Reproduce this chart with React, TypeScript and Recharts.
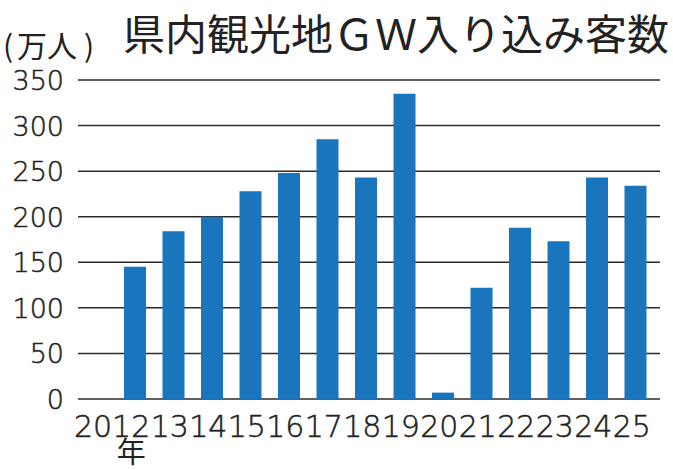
import React from "react"
import { BarChart, Bar, XAxis, YAxis, CartesianGrid } from "recharts"

const years = ["2012", "13", "14", "15", "16", "17", "18", "19", "20", "21", "22", "23", "24", "25"]
const visitors = [145, 184, 200, 228, 248, 285, 243, 335, 7, 122, 188, 173, 243, 234]
const yTicks = [0, 50, 100, 150, 200, 250, 300, 350]

const data = years.map((year, i) => ({ year, visitors: visitors[i] }))

const digitFont = "'DejaVu Sans', sans-serif"
const jpFont = "'Noto Sans CJK JP', sans-serif"

// extra-light digits, thickened a touch with a thin stroke
const digitStyle = {
  fontFamily: digitFont,
  fontWeight: 200,
  fill: "#222",
  stroke: "#222",
  strokeWidth: 0.5,
}

function YearTick(props: any) {
  const { x, y, payload, index } = props
  const cx = x - 4
  if (index === 0) {
    return (
      <g>
        <text x={cx + 19} y={y + 38} textAnchor="end" fontSize={30} {...digitStyle}>
          {payload.value}
        </text>
        <text x={cx} y={y + 64} textAnchor="middle" fontFamily={jpFont} fontSize={29} fill="#222">
          年
        </text>
      </g>
    )
  }
  return (
    <text x={cx} y={y + 38} textAnchor="middle" fontSize={30} {...digitStyle}>
      {payload.value}
    </text>
  )
}

function ValueTick(props: any) {
  const { y, payload } = props
  return (
    <text x={64} y={y + 10} textAnchor="end" fontSize={27} {...digitStyle}>
      {payload.value}
    </text>
  )
}

export default function App() {
  return (
    <div style={{ position: "absolute", left: 0, top: 0, width: 673, height: 470, background: "#fff" }}>
      <BarChart width={673} height={470} data={data} margin={{ top: 80, right: 13, bottom: 0, left: 0 }}>
        <g fontFamily={jpFont} fontSize={30} fill="#222">
          <text x={3} y={57}>(</text>
          <text x={17} y={57}>万人</text>
          <text x={84} y={57}>)</text>
        </g>
        <text x={123} y={50} fontFamily={jpFont} fontSize={42} fill="#222">
          県内観光地ＧＷ入り込み客数
        </text>
        <CartesianGrid vertical={false} stroke="#2a2a2a" strokeWidth={1.5} />
        <XAxis
          dataKey="year"
          height={71}
          axisLine={false}
          tickLine={false}
          tickSize={0}
          tickMargin={0}
          interval={0}
          padding={{ left: 38, right: 5 }}
          tick={<YearTick />}
        />
        <YAxis
          width={78}
          domain={[0, 350]}
          ticks={yTicks}
          axisLine={false}
          tickLine={false}
          tick={<ValueTick />}
        />
        <Bar dataKey="visitors" fill="#1b75bd" barSize={22} isAnimationActive={false} />
      </BarChart>
    </div>
  )
}
